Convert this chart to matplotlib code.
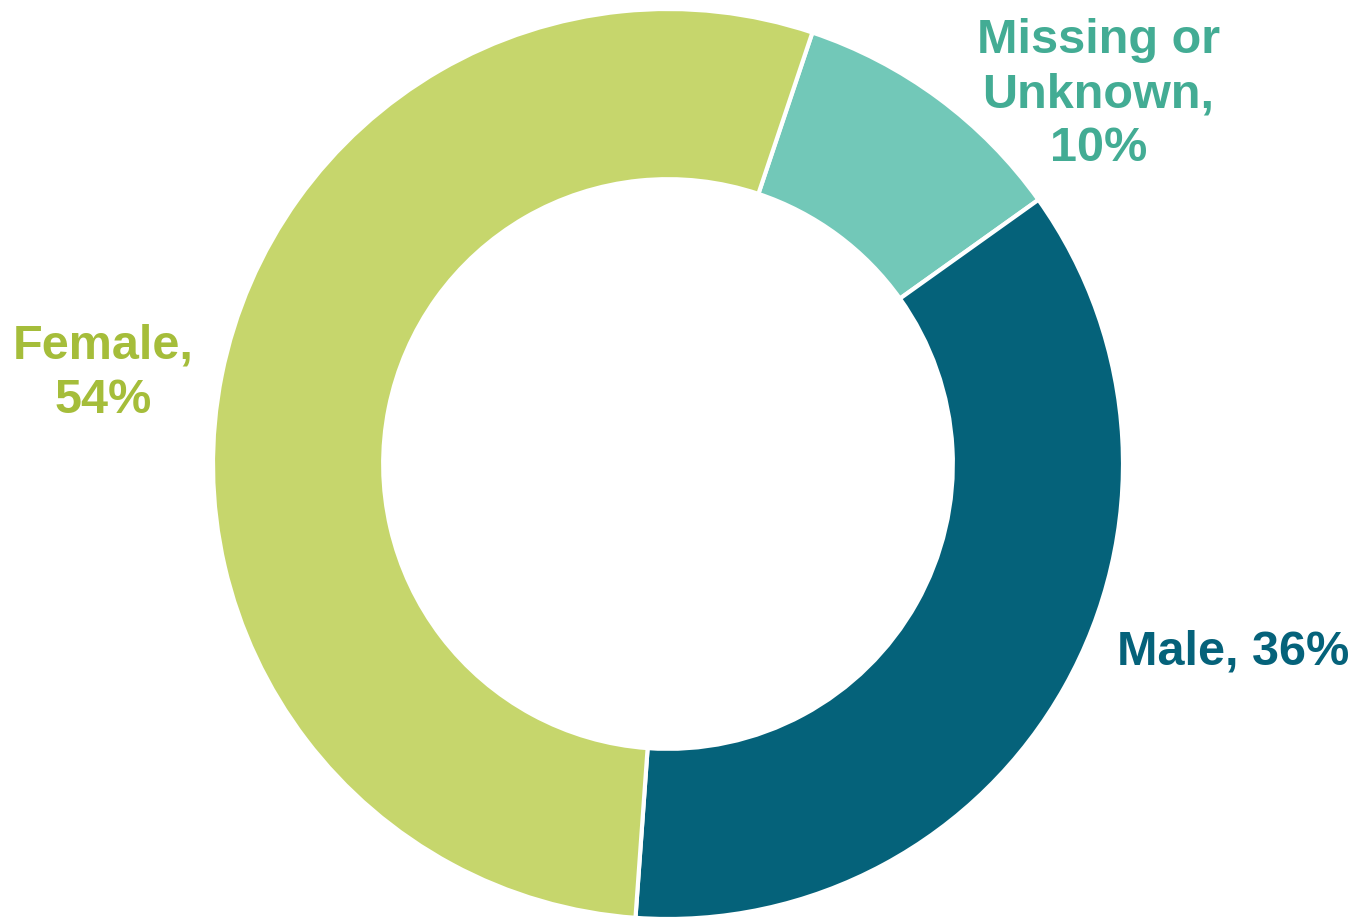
import matplotlib.pyplot as plt

categories = ["Missing or\nUnknown,\n10%", "Male, 36%", "Female,\n54%"]
values = [10, 36, 54]
wedge_colors = ["#72C8B8", "#05627A", "#C6D66C"]
text_colors = ["#43AC94", "#05627A", "#A5BD3A"]
label_pos = [(0.946, 0.812), (1.242, -0.413), (-1.242, 0.20)]

plt.rcParams["font.family"] = ["Liberation Sans", "DejaVu Sans"]

W, H = 1357, 919
fig = plt.figure(figsize=(W / 100, H / 100), dpi=100)
cx, cy, r = 668, 464, 455
ax = fig.add_axes([(cx - r) / W, (H - cy - r) / H, 2 * r / W, 2 * r / H])
ax.set_aspect("equal")
ax.axis("off")

ax.pie(values, colors=wedge_colors, startangle=71.5, counterclock=False,
       radius=1.0, wedgeprops=dict(width=0.374, edgecolor="white", linewidth=3))
ax.set_xlim(-1, 1)
ax.set_ylim(-1, 1)

for lab, col, (x, y) in zip(categories, text_colors, label_pos):
    ax.text(x, y, lab, color=col, fontsize=35, fontweight="bold",
            ha="center", va="center", linespacing=1.27, clip_on=False)

fig.savefig("out.png", dpi=100)
